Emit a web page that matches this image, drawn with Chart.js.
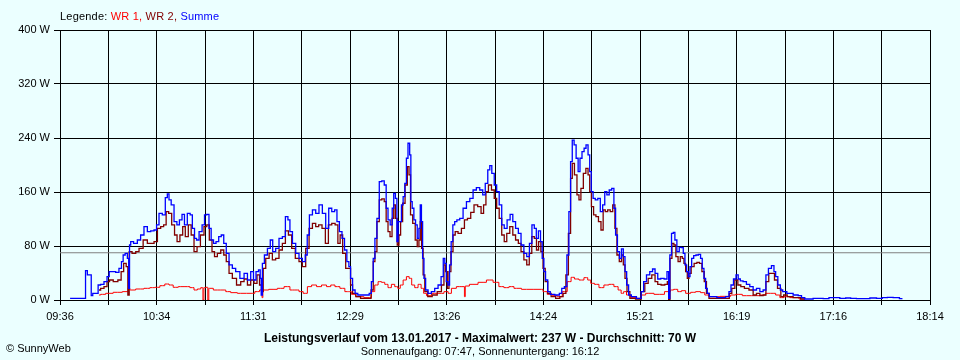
<!DOCTYPE html>
<html><head><meta charset="utf-8">
<script src="https://cdn.jsdelivr.net/npm/chart.js@4/dist/chart.umd.min.js"></script>
<style>
html,body{margin:0;padding:0;background:#EBFFFF;}
#wrap{position:relative;width:960px;height:360px;overflow:hidden;font-family:"Liberation Sans",Arial,sans-serif;font-size:11px;color:#000;background:#EBFFFF;}
canvas{position:absolute;left:0;top:0;}
.t{position:absolute;white-space:nowrap;line-height:13px;}
</style></head><body>
<div id="wrap">
<canvas id="c" width="960" height="360"></canvas>
<div class="t" style="left:60px;top:10px;letter-spacing:0.2px">Legende: <span style="color:#ff0000">WR 1,</span> <span style="color:#800000">WR 2,</span> <span style="color:#0000ff">Summe</span></div>
<div class="t" style="left:0;width:960px;text-align:center;top:332px;font-weight:bold;font-size:12px;">Leistungsverlauf vom 13.01.2017 - Maximalwert: 237 W - Durchschnitt: 70 W</div>
<div class="t" style="left:0;width:960px;text-align:center;top:345px;">Sonnenaufgang: 07:47, Sonnenuntergang: 16:12</div>
<div class="t" style="left:6px;top:342px">© SunnyWeb</div>
</div>
<script>
// time axis in minutes after midnight
const axisStartMin = 576;   // 09:36
const axisEndMin = 1094;    // 18:14
const gridIntervals = 18;
const xTickLabels = ['09:36','10:34','11:31','12:29','13:26','14:24','15:21','16:19','17:16','18:14'];
const yTickValues = [0,80,160,240,320,400];
const averageW = 70;

// [minute, watts]
const summe = [
[582.0,2.5],[591.1,2.5],[591.3,43.5],[593.3,37.1],[594.5,37.1],[594.7,6.4],[596.3,9.9],[598.2,9.9],[599.2,22.2],[601.2,23.2],
[603.2,27.2],[604.8,34.6],[605.8,42],[608.2,42],[610.1,41],[612.1,46.9],[613.1,56.8],[614.1,66.7],[615.5,69.2],[616.7,61.8],
[617.1,17.3],[617.7,81.5],[618.5,86.5],[621.1,84],[623.0,88.9],[625.0,96.3],[627.0,108.7],[629.0,101.3],[631.0,102.3],[633.0,103.7],
[634.0,111.2],[635.9,128.4],[637.9,126],[639.5,151.7],[640.3,157.1],[641.5,148.2],[642.9,140.8],[644.9,116.1],[646.3,111.2],[647.9,118.6],
[649.4,127],[650.8,111.2],[652.8,128.4],[654.2,126],[655.4,106.2],[656.8,91.4],[657.8,88.9],[659.8,101.3],[661.4,111.2],[662.7,126],
[664.1,127],[665.3,106.2],[666.7,88.9],[668.1,84],[669.7,86.5],[671.3,93.9],[672.7,96.3],[674.3,84],[675.7,69.2],[677.6,51.9],
[679.6,46.9],[681.6,42],[684.6,32.1],[686.6,39.5],[688.6,29.6],[690.5,42],[691.9,29.6],[693.5,42],[694.9,44.5],[695.5,32.1],
[696.1,7.4],[696.9,54.3],[698.5,66.7],[700.5,76.6],[701.9,88.9],[703.4,71.6],[705.4,76.6],[707.4,91.4],[709.4,93.9],[711.0,123.5],
[712.4,118.6],[713.4,101.3],[715.4,84],[717.3,69.2],[719.3,61.8],[721.3,56.8],[722.7,66.7],[723.7,96.3],[725.3,126],[727.3,133.4],
[729.2,128.4],[731.2,140.8],[733.2,128.4],[735.2,106.2],[736.8,135.9],[738.8,130.9],[740.2,133.4],[741.6,116.1],[743.1,101.3],[744.7,91.4],
[746.1,74.1],[747.5,56.8],
[748.5,49.4],[749.5,32.1],[750.9,14.8],[752.5,9.9],[754.1,7.4],[759.4,7.4],[760.8,9.9],[762.0,27.2],[763.0,61.8],[764.0,91.4],
[765.4,121],[766.8,175.4],[768.4,176.4],[769.7,170.4],[770.7,135.9],[771.9,118.6],[773.3,111.2],[774.3,135.9],[775.1,158.1],[776.3,150.7],
[776.9,86.5],[777.7,116.1],[778.7,116.1],[779.9,140.8],[780.7,153.1],[781.9,172.9],[782.6,210],[783.8,232.2],[784.6,214.9],[785.2,145.7],
[786.2,135.9],[787.2,118.6],[788.2,111.2],[789.2,91.4],[790.2,106.2],[790.8,140.8],[791.6,116.1],[792.2,61.8],[793.2,32.1],[794.2,14.8],
[796.1,9.9],[798.1,12.4],[800.1,17.3],[802.1,22.2],[803.7,34.6],[804.7,61.8],[805.5,54.3],[806.5,27.2],[807.5,22.2],[808.4,51.9],
[809.4,86.5],[810.4,111.2],[811.6,116.1],[813.0,118.6],[815.0,121],[817.0,135.9],[819.0,145.7],[821.0,150.7],[822.9,163],[824.9,166.5],
[826.9,163],[828.5,155.6],[829.9,172.9],[831.5,192.7],[832.3,199.1],[833.9,187.7],[835.2,170.4],[836.8,160.6],[838.2,140.8],[839.8,111.2],
[841.2,106.2],[843.2,118.6],[844.8,127],[846.4,116.1],[848.1,106.2],[849.7,98.8],[851.3,81.5],[853.1,69.2],[854.7,64.2],[856.3,84],
[857.7,111.2],[859.1,106.2],[860.1,91.4],[861.6,102.3],[862.6,86.5],[863.6,61.8],[864.6,42],[865.6,29.6],[867.2,12.4],[868.6,8.4],
[872.6,7.4],[874.0,9.9],[875.5,17.3],[877.1,19.8],[878.5,66.7],[879.5,130.9],[880.5,205],[881.5,237],[882.7,229.7],[883.9,210],
[885.1,190.2],[886.1,210],[887.5,219.8],[888.6,224.8],[889.8,229.7],[891.0,214.9],[891.8,190.2],[892.8,160.6],[894.0,150.7],[895.4,148.2],
[897.0,150.7],[898.4,130.9],[899.8,140.8],[900.9,160.6],[902.3,155.6],[903.7,163],[905.3,165.5],[906.3,135.9],[907.3,96.3],[908.5,71.6],
[909.7,61.8],[910.9,75.6],[911.9,64.2],[912.9,42],[913.9,22.2],[915.2,7.4],[917.2,4.9],
[921.2,2.5],[922.8,12.4],[924.2,27.2],[926.2,37.1],[928.1,42],[929.5,45.9],[931.1,39.5],[932.7,31.1],[934.7,32.1],[936.7,31.1],
[938.1,42],[938.7,2.5],[939.5,66.7],[940.7,98.8],[941.6,100.3],[942.6,88.9],[944.0,71.6],[945.4,78],[946.6,77.6],[947.6,69.2],
[948.6,51.9],[949.6,42],[950.6,34.6],[951.6,49.4],[952.6,61.8],[954.0,65.7],[955.3,66.7],[956.9,67.7],[957.9,61.8],[958.9,46.9],
[959.9,32.1],[960.9,17.3],[961.9,9.9],[963.3,4.9],[970.8,3.5],[973.8,4.9],[974.8,12.4],[976.2,22.2],[977.8,31.1],[979.2,37.1],
[980.4,31.1],[981.7,28.2],[983.7,27.2],[985.7,23.2],[987.7,19.8],[989.7,14.8],[991.7,17.3],[993.7,12.4],[995.6,14.8],[997.0,37.1],
[998.6,46.9],[1000.6,50.9],[1001.6,42],[1002.6,34.6],[1004.2,22.2],[1005.6,14.8],[1007.0,12.4],[1010.5,9.9],[1014.5,7.4],[1016.5,6.4],
[1018.5,3.5],[1020.4,1.5],[1028.4,2.5],[1032.4,2],[1035.3,3.5],[1038.3,3.5],[1042.3,2.5],[1045.3,3],[1048.2,2.5],[1052.2,2],
[1056.2,2],[1060.2,3],[1064.1,2.5],[1067.1,3.5],[1070.1,4],[1074.0,3.5],[1077.6,2]
];

const wr2 = [
[599.2,14.8],[601.2,17.3],[603.2,19.8],[604.8,27.2],[606.2,29.6],[609.2,27.2],[611.7,29.6],[613.1,42],[614.7,54.3],[616.1,49.4],
[616.7,7.4],[617.7,71.6],[620.1,69.2],[622.1,71.6],[624.0,76.6],[627.0,88.9],[629.0,84],[631.0,84],[633.0,86.5],[635.0,106.2],
[636.9,108.7],[638.5,111.2],[639.9,130.9],[641.5,128.4],[643.5,111.2],[644.9,96.3],[646.5,86.5],[648.3,96.3],[649.8,108.7],[651.4,93.9],
[653.4,111.2],[654.8,96.3],[656.8,71.6],[658.4,79],[660.8,96.3],[662.7,108.7],[664.1,111.2],[665.7,88.9],[667.3,71.6],[668.7,64.2],
[670.7,69.2],[672.7,74.1],[674.3,66.7],[675.7,56.8],[677.6,39.5],[679.6,32.1],[682.6,22.2],[684.6,27.2],[686.6,31.1],[688.6,22.2],
[690.5,29.6],[692.5,24.7],[694.1,37.1],[695.5,22.2],[696.5,12.4],[697.5,46.9],[699.5,61.8],[701.5,69.2],[703.4,59.3],[705.4,61.8],
[707.4,74.1],[709.4,84],[711.0,102.3],[713.0,96.3],[714.9,76.6],[717.3,61.8],[719.3,56.8],[721.3,49.4],[723.3,76.6],[725.3,106.2],
[727.3,113.6],[729.2,108.7],[730.8,111.2],[733.2,106.2],[734.8,84],[736.8,111.2],[738.8,113.6],[740.8,111.2],[742.1,84],[743.5,96.3],
[745.1,69.2],[747.1,46.9],
[748.5,46.9],[749.5,22.2],[750.9,9.9],[753.5,4.9],[756.4,2.5],[760.4,2.5],[762.0,14.8],[763.0,56.8],[764.0,71.6],[765.4,116.1],
[766.8,148.2],[768.4,149.7],[769.7,145.7],[770.7,116.1],[771.9,101.3],[773.1,93.9],[774.3,121],[775.1,140.8],[776.3,121],[777.3,81.5],
[778.3,96.3],[779.3,116.1],[780.7,143.3],[782.2,170.4],[783.4,197.6],[784.2,185.3],[785.2,126],[786.8,113.6],[788.2,88.9],[789.2,79],
[790.2,88.9],[790.8,116.1],[791.8,76.6],[792.6,37.1],[793.8,12.4],[796.1,4.9],[799.1,7.4],[802.1,12.4],[804.1,22.2],[805.1,51.9],
[806.1,42],[807.1,17.3],[808.1,42],[809.4,71.6],[810.6,96.3],[812.0,101.3],[814.0,98.8],[816.0,106.2],[817.6,118.6],[819.6,121],
[821.5,129.9],[823.5,140.8],[825.9,138.3],[827.5,128.4],[828.9,140.8],[830.3,160.6],[831.9,170.4],[833.9,163],[835.2,150.7],[836.8,135.9],
[838.2,121],[839.8,96.3],[841.2,86.5],[842.8,98.8],[844.8,108.7],[846.4,96.3],[848.1,88.9],[849.7,84],[851.3,71.6],[853.1,59.3],
[854.7,51.9],[856.1,69.2],[857.7,93.9],[859.1,91.4],[860.3,74.1],[861.6,86.5],[863.0,71.6],[864.2,46.9],[865.6,27.2],[867.2,9.9],
[869.6,4.9],[872.6,2.5],[874.6,4.9],[876.5,9.9],[877.9,37.1],[879.5,98.8],[880.5,180.3],[881.5,202.5],[883.1,185.3],[884.5,155.6],
[885.5,148.2],[886.8,165.5],[888.4,187.7],[889.8,195.1],[891.0,185.3],[891.8,160.6],[893.0,138.3],[894.4,126],[895.8,123.5],[897.4,116.1],
[898.8,103.7],[900.0,133.4],[901.3,130.9],[902.9,133.4],[904.3,130.9],[905.9,140.8],[906.9,106.2],[908.3,66.7],[909.7,56.8],[910.9,66.7],
[911.9,51.9],[912.9,32.1],[914.3,12.4],[916.3,2.5],[921.0,1.5],
[923.2,12.4],[925.2,24.7],[927.2,32.1],[929.5,37.1],[931.1,27.2],[932.7,23.2],[935.1,22.2],[937.1,23.2],[938.1,27.2],[938.7,0],
[939.7,61.8],[941.0,84],[942.0,81.5],[943.4,64.2],[944.6,56.8],[946.0,64.2],[947.0,61.8],[948.0,54.3],[949.0,42],[950.0,32.1],
[951.0,39.5],[952.6,49.4],[954.5,54.3],[955.9,55.8],[957.5,54.3],[958.9,42],[960.3,27.2],[961.5,9.9],[963.3,2.5],[973.8,2.5],
[975.2,9.9],[976.8,17.3],[978.8,29.6],[980.4,22.2],[982.3,19.8],[984.7,17.3],[987.7,14.8],[989.7,7.4],[991.7,9.9],[993.7,6.4],
[995.6,7.4],[997.0,27.2],[999.0,39.5],[1000.6,39.5],[1002.2,29.6],[1004.2,17.3],[1006.2,4.9],[1007.5,7.4],[1010.5,4.9],[1014.5,3.5],
[1019.5,1.5]
];

const wr1 = [
[599.2,7.4],[601.2,8.4],[605.2,9.9],[610.1,11.4],[616.1,12.4],[617.1,17.3],[618.1,14.8],[624.0,16.3],[628.0,17.3],[631.0,18.3],
[634.0,18.8],[636.9,21.2],[639.9,23.7],[641.9,22.2],[644.9,18.8],[647.9,19.8],[651.8,19.8],[654.8,18.3],[656.8,14.8],[658.8,16.3],
[660.8,18.3],[661.4,0],[662.0,18.3],[663.7,18.8],[664.3,0],[664.9,17.3],[669.7,14.8],[673.7,14.8],[675.7,12.4],[679.6,10.9],
[683.6,9.9],[690.5,9.9],[693.5,12.4],[696.1,14.8],[696.5,3.5],[697.1,14.8],[703.4,15.8],[707.4,17.3],[711.4,19.8],[714.4,14.8],
[717.3,14.8],[719.3,12.4],[722.3,9.9],[724.3,19.8],[727.3,22.2],[730.2,19.8],[733.2,22.2],[736.2,19.8],[738.2,22.2],[741.2,19.8],
[744.1,17.3],[747.1,12.4],
[748.5,12.4],[750.5,8.4],[753.5,4.9],[760.4,3.5],[762.4,12.4],[764.4,22.2],[766.4,27.2],[768.4,26.2],[770.3,23.2],[772.3,18.3],
[774.3,23.2],[776.3,19.8],[777.9,17.3],[779.3,22.2],[781.3,29.6],[783.2,34.6],[784.6,32.1],[786.2,22.2],[788.2,18.3],[790.2,23.2],
[791.8,17.3],[793.2,9.9],[795.2,6.4],[799.1,9.9],[803.1,9.9],[806.1,12.4],[808.1,9.9],[810.0,17.3],[814.0,19.8],[816.6,19.8],
[817.0,4.9],[817.6,20.7],[821.9,23.2],[827.9,26.2],[831.9,29.6],[835.8,26.2],[838.8,19.8],[841.8,18.3],[844.8,19.8],[847.8,17.3],
[853.7,15.8],[862.6,15.8],[864.6,12.4],[867.6,8.4],[870.6,6.4],[873.6,4.9],[876.5,12.4],[879.5,27.2],[881.1,33.6],[883.5,31.1],
[886.5,29.6],[889.4,33.1],[891.0,29.6],[893.0,24.7],[895.4,23.2],[898.4,18.3],[901.3,22.2],[904.3,23.2],[907.3,19.8],[909.3,14.8],
[910.9,9.9],[912.3,12.4],[914.3,7.4],[917.2,3.5],[921.0,2.5],
[923.2,7.4],[926.2,9.9],[933.1,8.4],[938.7,12.4],[940.1,14.8],[942.6,15.8],[945.0,12.4],[947.0,13.8],[950.0,9.9],[953.0,11.4],
[955.9,12.4],[958.9,10.9],[960.9,7.4],[963.9,4.9],[973.8,5.4],[976.8,7.4],[979.8,8.4],[984.7,6.4],[990.7,6.4],[994.6,7.4],
[997.6,9.9],[1000.6,9.9],[1003.6,7.4],[1005.6,3.5],[1008.5,4.9],[1012.5,3.5],[1019.5,1.5]
];

const FONT = {family:'"Liberation Sans", Arial, sans-serif', size:11};
const toXY = arr => arr.map(p => ({x:p[0], y:p[1]}));
const step = (axisEndMin - axisStartMin) / gridIntervals;

new Chart(document.getElementById('c'), {
  type:'line',
  data:{datasets:[
    {label:'Durchschnitt', data:[{x:axisStartMin,y:averageW},{x:axisEndMin,y:averageW}], borderColor:'#808080', borderWidth:1, pointRadius:0, order:10},
    {label:'WR 1', data:toXY(wr1), borderColor:'#ff0000', borderWidth:1, pointRadius:0, stepped:'middle', order:3},
    {label:'WR 2', data:toXY(wr2), borderColor:'#800000', borderWidth:1.3, pointRadius:0, stepped:'middle', order:2},
    {label:'Summe', data:toXY(summe), borderColor:'#0000ff', borderWidth:1.3, pointRadius:0, stepped:'middle', order:1}
  ]},
  options:{
    responsive:false, animation:false, devicePixelRatio:1,
    layout:{padding:{left:0,right:30,top:30,bottom:0}},
    plugins:{legend:{display:false}, tooltip:{enabled:false}},
    scales:{
      x:{type:'linear', min:axisStartMin, max:axisEndMin,
        afterBuildTicks:s=>{ s.ticks = Array.from({length:gridIntervals+1},(_,i)=>({value:axisStartMin+i*step})); },
        afterFit:s=>{ s.height = 60; },
        ticks:{autoSkip:false, maxRotation:0, minRotation:0, color:'#000', font:FONT, padding:5,
          callback:(v,i)=> i%2===0 ? xTickLabels[i/2] : ''},
        grid:{color:'#000', lineWidth:1, tickLength:5, drawTicks:true},
        border:{color:'#000', width:1}
      },
      y:{min:0, max:400,
        afterBuildTicks:s=>{ s.ticks = yTickValues.map(v=>({value:v})); },
        afterFit:s=>{ s.width = 60; },
        ticks:{color:'#000', font:FONT, padding:4, callback:v=> v + ' W'},
        grid:{color:'#000', lineWidth:1, tickLength:6, drawTicks:true},
        border:{color:'#000', width:1}
      }
    }
  }
});
</script>
</body></html>
